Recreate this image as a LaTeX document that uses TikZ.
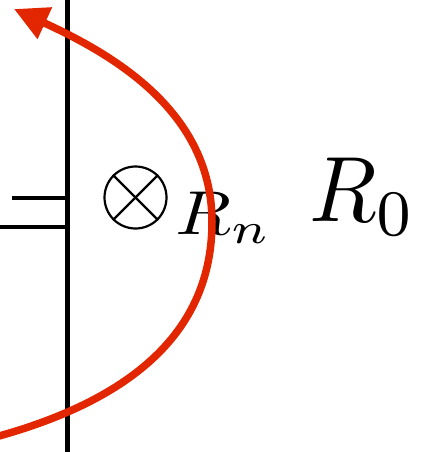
\documentclass[tikz,border=0pt]{standalone}
\usetikzlibrary{arrows.meta}
\definecolor{arcred}{RGB}{226,38,0}
\tikzset{
  wire/.style={line width=4.4pt, black},
  loopline/.style={line width=7.5pt, arcred, -{Triangle[length=34pt,width=33pt]}},
  otimesring/.style={circle, draw, line width=2.2pt, minimum size=62pt, inner sep=0pt},
  crossline/.style={line width=2.2pt},
  lbl/.style={inner sep=0pt, anchor=base west}
}
\begin{document}
\begin{tikzpicture}[x=1pt,y=-1pt]
\useasboundingbox (0,0) rectangle (424,452);
% vertical conductor
\coordinate (vtop) at (67.5,-5);
\coordinate (vbot) at (67.5,457);
\draw[wire] (vtop) -- (vbot);
% the two short horizontal lines
\coordinate (hup1) at (12,198);
\coordinate (hup2) at (67.5,198);
\coordinate (hlo1) at (-2,227);
\coordinate (hlo2) at (67.5,227);
\draw[wire, line width=4pt] (hup1) -- (hup2);
\draw[wire, line width=4.6pt] (hlo1) -- (hlo2);
% otimes symbol
\node[otimesring] (ot) at (135.5,197.5) {};
\draw[crossline] (ot.north west) -- (ot.south east);
\draw[crossline] (ot.north east) -- (ot.south west);
% labels
\node[lbl, xscale=7.3, yscale=6.2] (rn) at (174.5,234) {$R_n$};
\node[lbl, xscale=8.8, yscale=9.28] (r0) at (308.2,221.7) {$R_0$};
% red loop with arrow
\coordinate (lstart) at (-10,438.5);
\coordinate (lmid) at (212,222);
\coordinate (ltip) at (14,9);
\draw[loopline] (lstart) .. controls (116,405) and (212,342) .. (lmid)
  .. controls (212,112) and (114,55) .. (ltip);
\end{tikzpicture}
\end{document}
